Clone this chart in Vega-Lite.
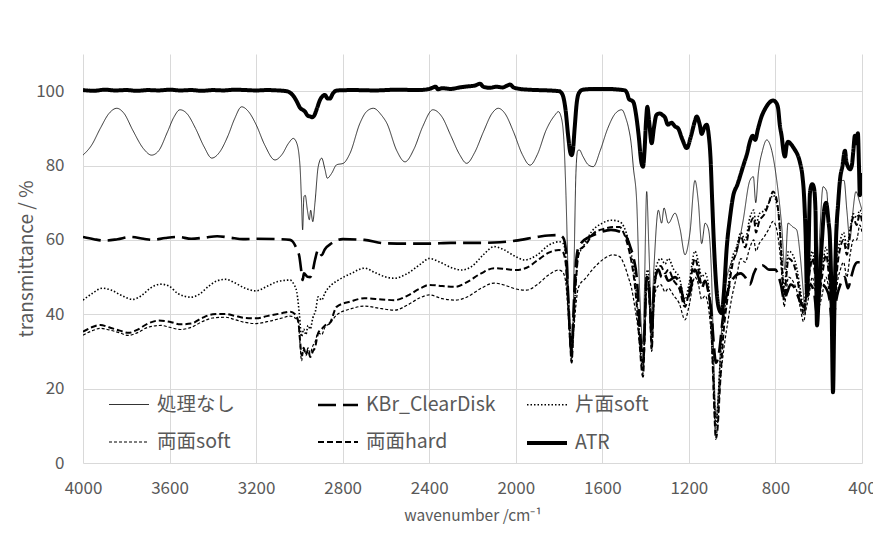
{
"$schema":"https://vega.github.io/schema/vega-lite/v6.json",
"width":779,"height":409,
"autosize":{"type":"none"},
"padding":{"left":83,"top":54,"right":11,"bottom":73},
"background":"white",
"config":{"view":{"stroke":null},"font":"Noto Sans CJK JP"},
"datasets":{
"spectra":[
{"series":"処理なし","wn":4000,"T":82.8},{"series":"処理なし","wn":3960,"T":85.5},{"series":"処理なし","wn":3920,"T":90},{"series":"処理なし","wn":3880,"T":94},{"series":"処理なし","wn":3844,"T":95.4},{"series":"処理なし","wn":3810,"T":94},{"series":"処理なし","wn":3770,"T":89.5},{"series":"処理なし","wn":3720,"T":84.5},{"series":"処理なし","wn":3683,"T":82.8},{"series":"処理なし","wn":3650,"T":84},{"series":"処理なし","wn":3610,"T":89},{"series":"処理なし","wn":3580,"T":93},{"series":"処理なし","wn":3552,"T":95},{"series":"処理なし","wn":3520,"T":94},{"series":"処理なし","wn":3480,"T":90},{"series":"処理なし","wn":3440,"T":85},{"series":"処理なし","wn":3405,"T":82},{"series":"処理なし","wn":3370,"T":83.5},{"series":"処理なし","wn":3330,"T":88},{"series":"処理なし","wn":3300,"T":92.5},{"series":"処理なし","wn":3267,"T":95.8},{"series":"処理なし","wn":3235,"T":94.5},{"series":"処理なし","wn":3200,"T":91},{"series":"処理なし","wn":3160,"T":85.5},{"series":"処理なし","wn":3113,"T":81.5},{"series":"処理なし","wn":3080,"T":83},{"series":"処理なし","wn":3050,"T":86},{"series":"処理なし","wn":3028,"T":87.3},{"series":"処理なし","wn":3012,"T":86},{"series":"処理なし","wn":2997,"T":79.7},{"series":"処理なし","wn":2990,"T":70},{"series":"処理なし","wn":2985,"T":62.7},{"series":"処理なし","wn":2979,"T":71.6},{"series":"処理なし","wn":2973,"T":72},{"series":"処理なし","wn":2963,"T":68},{"series":"処理なし","wn":2954,"T":65.4},{"series":"処理なし","wn":2948,"T":68},{"series":"処理なし","wn":2938,"T":64.9},{"series":"処理なし","wn":2928,"T":70},{"series":"処理なし","wn":2913,"T":79.7},{"series":"処理なし","wn":2897,"T":82},{"series":"処理なし","wn":2882,"T":79},{"series":"処理なし","wn":2871,"T":76.6},{"series":"処理なし","wn":2851,"T":77.9},{"series":"処理なし","wn":2828,"T":80.2},{"series":"処理なし","wn":2797,"T":80.6},{"series":"処理なし","wn":2766,"T":83.3},{"series":"処理なし","wn":2720,"T":91.4},{"series":"処理なし","wn":2690,"T":94.5},{"series":"処理なし","wn":2658,"T":95.4},{"series":"処理なし","wn":2620,"T":93.5},{"series":"処理なし","wn":2596,"T":91.4},{"series":"処理なし","wn":2550,"T":84},{"series":"処理なし","wn":2512,"T":81},{"series":"処理なし","wn":2470,"T":84.5},{"series":"処理なし","wn":2430,"T":90.5},{"series":"処理なし","wn":2383,"T":95},{"series":"処理なし","wn":2340,"T":93},{"series":"処理なし","wn":2300,"T":88},{"series":"処理なし","wn":2260,"T":83},{"series":"処理なし","wn":2227,"T":80.6},{"series":"処理なし","wn":2190,"T":83.5},{"series":"処理なし","wn":2150,"T":89},{"series":"処理なし","wn":2110,"T":94},{"series":"処理なし","wn":2081,"T":95.4},{"series":"処理なし","wn":2050,"T":94},{"series":"処理なし","wn":2010,"T":89},{"series":"処理なし","wn":1970,"T":83},{"series":"処理なし","wn":1934,"T":80.1},{"series":"処理なし","wn":1900,"T":83},{"series":"処理なし","wn":1860,"T":89.5},{"series":"処理なし","wn":1820,"T":93.5},{"series":"処理なし","wn":1803,"T":94.5},{"series":"処理なし","wn":1790,"T":93},{"series":"処理なし","wn":1778,"T":87},{"series":"処理なし","wn":1768,"T":72},{"series":"処理なし","wn":1758,"T":50},{"series":"処理なし","wn":1748,"T":32},{"series":"処理なし","wn":1742,"T":28},{"series":"処理なし","wn":1736,"T":36},{"series":"処理なし","wn":1730,"T":55},{"series":"処理なし","wn":1722,"T":78},{"series":"処理なし","wn":1714,"T":84},{"series":"処理なし","wn":1706,"T":84.2},{"series":"処理なし","wn":1690,"T":82.5},{"series":"処理なし","wn":1665,"T":80.2},{"series":"処理なし","wn":1642,"T":79.7},{"series":"処理なし","wn":1610,"T":84},{"series":"処理なし","wn":1575,"T":90},{"series":"処理なし","wn":1540,"T":94},{"series":"処理なし","wn":1510,"T":95},{"series":"処理なし","wn":1490,"T":92.5},{"series":"処理なし","wn":1480,"T":90.4},{"series":"処理なし","wn":1465,"T":85},{"series":"処理なし","wn":1457,"T":79.7},{"series":"処理なし","wn":1441,"T":70},{"series":"処理なし","wn":1430,"T":50},{"series":"処理なし","wn":1418,"T":35},{"series":"処理なし","wn":1412,"T":32},{"series":"処理なし","wn":1406,"T":45},{"series":"処理なし","wn":1395,"T":73},{"series":"処理なし","wn":1385,"T":58},{"series":"処理なし","wn":1372,"T":40},{"series":"処理なし","wn":1362,"T":52},{"series":"処理なし","wn":1341,"T":68},{"series":"処理なし","wn":1326,"T":64.5},{"series":"処理なし","wn":1315,"T":68.6},{"series":"処理なし","wn":1295,"T":64.5},{"series":"処理なし","wn":1264,"T":67.2},{"series":"処理なし","wn":1241,"T":63},{"series":"処理なし","wn":1218,"T":56},{"series":"処理なし","wn":1195,"T":62},{"series":"処理なし","wn":1172,"T":76},{"series":"処理なし","wn":1156,"T":70},{"series":"処理なし","wn":1141,"T":59},{"series":"処理なし","wn":1125,"T":64.5},{"series":"処理なし","wn":1110,"T":63},{"series":"処理なし","wn":1095,"T":50},{"series":"処理なし","wn":1085,"T":28},{"series":"処理なし","wn":1075,"T":12},{"series":"処理なし","wn":1065,"T":18},{"series":"処理なし","wn":1050,"T":35},{"series":"処理なし","wn":1030,"T":48},{"series":"処理なし","wn":1010,"T":53},{"series":"処理なし","wn":979,"T":56.5},{"series":"処理なし","wn":950,"T":65},{"series":"処理なし","wn":918,"T":76},{"series":"処理なし","wn":902,"T":77},{"series":"処理なし","wn":891,"T":70},{"series":"処理なし","wn":879,"T":78},{"series":"処理なし","wn":860,"T":84},{"series":"処理なし","wn":840,"T":86.9},{"series":"処理なし","wn":817,"T":84},{"series":"処理なし","wn":794,"T":76},{"series":"処理なし","wn":771,"T":63.6},{"series":"処理なし","wn":756,"T":52},{"series":"処理なし","wn":742,"T":64.5},{"series":"処理なし","wn":720,"T":63.5},{"series":"処理なし","wn":702,"T":62.7},{"series":"処理なし","wn":686,"T":56},{"series":"処理なし","wn":670,"T":45},{"series":"処理なし","wn":663,"T":40},{"series":"処理なし","wn":655,"T":47},{"series":"処理なし","wn":640,"T":52},{"series":"処理なし","wn":625,"T":55},{"series":"処理なし","wn":608,"T":48},{"series":"処理なし","wn":595,"T":62},{"series":"処理なし","wn":580,"T":74.3},{"series":"処理なし","wn":563,"T":73},{"series":"処理なし","wn":550,"T":55},{"series":"処理なし","wn":540,"T":38},{"series":"処理なし","wn":534,"T":30},{"series":"処理なし","wn":528,"T":40},{"series":"処理なし","wn":515,"T":60},{"series":"処理なし","wn":495,"T":76},{"series":"処理なし","wn":483,"T":76},{"series":"処理なし","wn":470,"T":68},{"series":"処理なし","wn":456,"T":60},{"series":"処理なし","wn":445,"T":66},{"series":"処理なし","wn":428,"T":73},{"series":"処理なし","wn":410,"T":70},{"series":"処理なし","wn":400,"T":68},

{"series":"KBr_ClearDisk","wn":4000,"T":60.8},{"series":"KBr_ClearDisk","wn":3950,"T":60.2},{"series":"KBr_ClearDisk","wn":3900,"T":59.8},{"series":"KBr_ClearDisk","wn":3840,"T":60.2},{"series":"KBr_ClearDisk","wn":3780,"T":60.8},{"series":"KBr_ClearDisk","wn":3720,"T":60.3},{"series":"KBr_ClearDisk","wn":3680,"T":60},{"series":"KBr_ClearDisk","wn":3620,"T":60.5},{"series":"KBr_ClearDisk","wn":3560,"T":60.8},{"series":"KBr_ClearDisk","wn":3500,"T":60.3},{"series":"KBr_ClearDisk","wn":3440,"T":60.6},{"series":"KBr_ClearDisk","wn":3380,"T":61},{"series":"KBr_ClearDisk","wn":3320,"T":60.6},{"series":"KBr_ClearDisk","wn":3260,"T":60.2},{"series":"KBr_ClearDisk","wn":3200,"T":60.3},{"series":"KBr_ClearDisk","wn":3100,"T":60.2},{"series":"KBr_ClearDisk","wn":3043,"T":60},{"series":"KBr_ClearDisk","wn":3030,"T":59.5},{"series":"KBr_ClearDisk","wn":3012,"T":57.5},{"series":"KBr_ClearDisk","wn":3000,"T":55.5},{"series":"KBr_ClearDisk","wn":2992,"T":52},{"series":"KBr_ClearDisk","wn":2985,"T":49.2},{"series":"KBr_ClearDisk","wn":2979,"T":51},{"series":"KBr_ClearDisk","wn":2963,"T":50.1},{"series":"KBr_ClearDisk","wn":2950,"T":50},{"series":"KBr_ClearDisk","wn":2940,"T":51.3},{"series":"KBr_ClearDisk","wn":2928,"T":54.6},{"series":"KBr_ClearDisk","wn":2913,"T":57.3},{"series":"KBr_ClearDisk","wn":2897,"T":55.9},{"series":"KBr_ClearDisk","wn":2882,"T":57.5},{"series":"KBr_ClearDisk","wn":2851,"T":59.1},{"series":"KBr_ClearDisk","wn":2800,"T":60.2},{"series":"KBr_ClearDisk","wn":2700,"T":60},{"series":"KBr_ClearDisk","wn":2610,"T":59.1},{"series":"KBr_ClearDisk","wn":2500,"T":59},{"series":"KBr_ClearDisk","wn":2400,"T":59},{"series":"KBr_ClearDisk","wn":2300,"T":59.2},{"series":"KBr_ClearDisk","wn":2200,"T":59.2},{"series":"KBr_ClearDisk","wn":2100,"T":59.3},{"series":"KBr_ClearDisk","wn":2000,"T":59.8},{"series":"KBr_ClearDisk","wn":1900,"T":60.8},{"series":"KBr_ClearDisk","wn":1850,"T":61.2},{"series":"KBr_ClearDisk","wn":1800,"T":61.3},{"series":"KBr_ClearDisk","wn":1780,"T":60.5},{"series":"KBr_ClearDisk","wn":1768,"T":57},{"series":"KBr_ClearDisk","wn":1758,"T":45},{"series":"KBr_ClearDisk","wn":1750,"T":35},{"series":"KBr_ClearDisk","wn":1742,"T":30},{"series":"KBr_ClearDisk","wn":1735,"T":38},{"series":"KBr_ClearDisk","wn":1726,"T":50},{"series":"KBr_ClearDisk","wn":1715,"T":57},{"series":"KBr_ClearDisk","wn":1700,"T":59},{"series":"KBr_ClearDisk","wn":1660,"T":60.8},{"series":"KBr_ClearDisk","wn":1620,"T":61.8},{"series":"KBr_ClearDisk","wn":1560,"T":62.7},{"series":"KBr_ClearDisk","wn":1510,"T":62},{"series":"KBr_ClearDisk","wn":1490,"T":61},{"series":"KBr_ClearDisk","wn":1470,"T":58},{"series":"KBr_ClearDisk","wn":1455,"T":55},{"series":"KBr_ClearDisk","wn":1441,"T":50},{"series":"KBr_ClearDisk","wn":1425,"T":35},{"series":"KBr_ClearDisk","wn":1412,"T":27},{"series":"KBr_ClearDisk","wn":1402,"T":40},{"series":"KBr_ClearDisk","wn":1395,"T":50},{"series":"KBr_ClearDisk","wn":1385,"T":48},{"series":"KBr_ClearDisk","wn":1372,"T":35},{"series":"KBr_ClearDisk","wn":1360,"T":48},{"series":"KBr_ClearDisk","wn":1341,"T":52},{"series":"KBr_ClearDisk","wn":1326,"T":50},{"series":"KBr_ClearDisk","wn":1315,"T":51},{"series":"KBr_ClearDisk","wn":1295,"T":49},{"series":"KBr_ClearDisk","wn":1264,"T":50},{"series":"KBr_ClearDisk","wn":1241,"T":48},{"series":"KBr_ClearDisk","wn":1218,"T":43},{"series":"KBr_ClearDisk","wn":1195,"T":46},{"series":"KBr_ClearDisk","wn":1172,"T":52},{"series":"KBr_ClearDisk","wn":1156,"T":50},{"series":"KBr_ClearDisk","wn":1141,"T":47},{"series":"KBr_ClearDisk","wn":1125,"T":49},{"series":"KBr_ClearDisk","wn":1110,"T":46},{"series":"KBr_ClearDisk","wn":1095,"T":40},{"series":"KBr_ClearDisk","wn":1085,"T":32},{"series":"KBr_ClearDisk","wn":1075,"T":27},{"series":"KBr_ClearDisk","wn":1060,"T":30},{"series":"KBr_ClearDisk","wn":1045,"T":38},{"series":"KBr_ClearDisk","wn":1030,"T":44},{"series":"KBr_ClearDisk","wn":1010,"T":48},{"series":"KBr_ClearDisk","wn":990,"T":50},{"series":"KBr_ClearDisk","wn":960,"T":51},{"series":"KBr_ClearDisk","wn":940,"T":50},{"series":"KBr_ClearDisk","wn":918,"T":48},{"series":"KBr_ClearDisk","wn":900,"T":51},{"series":"KBr_ClearDisk","wn":880,"T":53},{"series":"KBr_ClearDisk","wn":860,"T":53.2},{"series":"KBr_ClearDisk","wn":830,"T":52},{"series":"KBr_ClearDisk","wn":800,"T":52},{"series":"KBr_ClearDisk","wn":790,"T":51},{"series":"KBr_ClearDisk","wn":775,"T":48},{"series":"KBr_ClearDisk","wn":760,"T":44},{"series":"KBr_ClearDisk","wn":745,"T":46},{"series":"KBr_ClearDisk","wn":730,"T":48},{"series":"KBr_ClearDisk","wn":710,"T":47},{"series":"KBr_ClearDisk","wn":690,"T":44},{"series":"KBr_ClearDisk","wn":670,"T":42},{"series":"KBr_ClearDisk","wn":654,"T":45},{"series":"KBr_ClearDisk","wn":640,"T":48},{"series":"KBr_ClearDisk","wn":622,"T":46},{"series":"KBr_ClearDisk","wn":608,"T":40},{"series":"KBr_ClearDisk","wn":595,"T":46},{"series":"KBr_ClearDisk","wn":585,"T":48},{"series":"KBr_ClearDisk","wn":566,"T":47},{"series":"KBr_ClearDisk","wn":550,"T":44},{"series":"KBr_ClearDisk","wn":540,"T":38},{"series":"KBr_ClearDisk","wn":534,"T":36},{"series":"KBr_ClearDisk","wn":528,"T":40},{"series":"KBr_ClearDisk","wn":515,"T":45},{"series":"KBr_ClearDisk","wn":500,"T":48},{"series":"KBr_ClearDisk","wn":480,"T":50},{"series":"KBr_ClearDisk","wn":465,"T":47},{"series":"KBr_ClearDisk","wn":450,"T":50},{"series":"KBr_ClearDisk","wn":435,"T":53},{"series":"KBr_ClearDisk","wn":420,"T":54},{"series":"KBr_ClearDisk","wn":400,"T":54},

{"series":"片面soft","wn":4000,"T":43.8},{"series":"片面soft","wn":3960,"T":45.5},{"series":"片面soft","wn":3910,"T":47},{"series":"片面soft","wn":3870,"T":46.5},{"series":"片面soft","wn":3820,"T":45},{"series":"片面soft","wn":3770,"T":44},{"series":"片面soft","wn":3730,"T":45},{"series":"片面soft","wn":3690,"T":47},{"series":"片面soft","wn":3640,"T":48.1},{"series":"片面soft","wn":3600,"T":47.5},{"series":"片面soft","wn":3560,"T":45.5},{"series":"片面soft","wn":3500,"T":44.6},{"series":"片面soft","wn":3460,"T":45.5},{"series":"片面soft","wn":3420,"T":47.5},{"series":"片面soft","wn":3380,"T":49},{"series":"片面soft","wn":3340,"T":49.4},{"series":"片面soft","wn":3300,"T":48.5},{"series":"片面soft","wn":3250,"T":47},{"series":"片面soft","wn":3200,"T":46.3},{"series":"片面soft","wn":3150,"T":47.5},{"series":"片面soft","wn":3100,"T":48.8},{"series":"片面soft","wn":3043,"T":49.2},{"series":"片面soft","wn":3025,"T":48},{"series":"片面soft","wn":3012,"T":46},{"series":"片面soft","wn":3000,"T":40},{"series":"片面soft","wn":2990,"T":34},{"series":"片面soft","wn":2980,"T":36},{"series":"片面soft","wn":2970,"T":34.5},{"series":"片面soft","wn":2960,"T":37},{"series":"片面soft","wn":2950,"T":36},{"series":"片面soft","wn":2938,"T":39},{"series":"片面soft","wn":2925,"T":41},{"series":"片面soft","wn":2913,"T":44.7},{"series":"片面soft","wn":2897,"T":43.8},{"series":"片面soft","wn":2882,"T":45.7},{"series":"片面soft","wn":2850,"T":48},{"series":"片面soft","wn":2820,"T":49.2},{"series":"片面soft","wn":2760,"T":51},{"series":"片面soft","wn":2700,"T":52.4},{"series":"片面soft","wn":2650,"T":51.2},{"series":"片面soft","wn":2600,"T":50},{"series":"片面soft","wn":2560,"T":49.7},{"series":"片面soft","wn":2500,"T":51},{"series":"片面soft","wn":2440,"T":53.5},{"series":"片面soft","wn":2400,"T":55},{"series":"片面soft","wn":2350,"T":54},{"series":"片面soft","wn":2300,"T":52.6},{"series":"片面soft","wn":2250,"T":51.9},{"series":"片面soft","wn":2200,"T":53},{"series":"片面soft","wn":2150,"T":56},{"series":"片面soft","wn":2100,"T":58.2},{"series":"片面soft","wn":2060,"T":57.5},{"series":"片面soft","wn":2000,"T":55.5},{"series":"片面soft","wn":1960,"T":54.6},{"series":"片面soft","wn":1900,"T":56},{"series":"片面soft","wn":1850,"T":58.5},{"series":"片面soft","wn":1800,"T":59.5},{"series":"片面soft","wn":1780,"T":59},{"series":"片面soft","wn":1768,"T":55},{"series":"片面soft","wn":1758,"T":45},{"series":"片面soft","wn":1750,"T":36},{"series":"片面soft","wn":1742,"T":30},{"series":"片面soft","wn":1735,"T":37},{"series":"片面soft","wn":1726,"T":45},{"series":"片面soft","wn":1712,"T":55.5},{"series":"片面soft","wn":1690,"T":58},{"series":"片面soft","wn":1650,"T":62.2},{"series":"片面soft","wn":1600,"T":64.5},{"series":"片面soft","wn":1560,"T":65.3},{"series":"片面soft","wn":1520,"T":64.9},{"series":"片面soft","wn":1500,"T":63.5},{"series":"片面soft","wn":1480,"T":60},{"series":"片面soft","wn":1465,"T":56},{"series":"片面soft","wn":1450,"T":50},{"series":"片面soft","wn":1435,"T":40},{"series":"片面soft","wn":1425,"T":32},{"series":"片面soft","wn":1418,"T":27},{"series":"片面soft","wn":1412,"T":25},{"series":"片面soft","wn":1405,"T":35},{"series":"片面soft","wn":1398,"T":50},{"series":"片面soft","wn":1390,"T":52},{"series":"片面soft","wn":1380,"T":44},{"series":"片面soft","wn":1372,"T":33},{"series":"片面soft","wn":1362,"T":46},{"series":"片面soft","wn":1350,"T":53},{"series":"片面soft","wn":1330,"T":55},{"series":"片面soft","wn":1310,"T":53.5},{"series":"片面soft","wn":1295,"T":55},{"series":"片面soft","wn":1270,"T":52},{"series":"片面soft","wn":1245,"T":50},{"series":"片面soft","wn":1218,"T":44},{"series":"片面soft","wn":1200,"T":48},{"series":"片面soft","wn":1172,"T":57},{"series":"片面soft","wn":1156,"T":54},{"series":"片面soft","wn":1141,"T":50},{"series":"片面soft","wn":1125,"T":51},{"series":"片面soft","wn":1110,"T":48},{"series":"片面soft","wn":1095,"T":38},{"series":"片面soft","wn":1085,"T":22},{"series":"片面soft","wn":1075,"T":10},{"series":"片面soft","wn":1068,"T":14},{"series":"片面soft","wn":1055,"T":28},{"series":"片面soft","wn":1040,"T":38},{"series":"片面soft","wn":1020,"T":47},{"series":"片面soft","wn":1000,"T":55},{"series":"片面soft","wn":980,"T":58},{"series":"片面soft","wn":960,"T":62},{"series":"片面soft","wn":940,"T":60},{"series":"片面soft","wn":918,"T":66},{"series":"片面soft","wn":900,"T":68},{"series":"片面soft","wn":890,"T":64},{"series":"片面soft","wn":875,"T":67},{"series":"片面soft","wn":850,"T":68},{"series":"片面soft","wn":830,"T":70},{"series":"片面soft","wn":811,"T":72},{"series":"片面soft","wn":795,"T":70},{"series":"片面soft","wn":780,"T":64},{"series":"片面soft","wn":770,"T":55},{"series":"片面soft","wn":760,"T":47},{"series":"片面soft","wn":750,"T":52},{"series":"片面soft","wn":740,"T":57},{"series":"片面soft","wn":720,"T":56},{"series":"片面soft","wn":700,"T":52},{"series":"片面soft","wn":686,"T":47},{"series":"片面soft","wn":670,"T":42},{"series":"片面soft","wn":660,"T":46},{"series":"片面soft","wn":645,"T":52},{"series":"片面soft","wn":630,"T":57},{"series":"片面soft","wn":615,"T":52},{"series":"片面soft","wn":600,"T":47},{"series":"片面soft","wn":585,"T":52},{"series":"片面soft","wn":566,"T":58},{"series":"片面soft","wn":550,"T":50},{"series":"片面soft","wn":540,"T":42},{"series":"片面soft","wn":534,"T":35},{"series":"片面soft","wn":528,"T":42},{"series":"片面soft","wn":515,"T":55},{"series":"片面soft","wn":500,"T":60},{"series":"片面soft","wn":485,"T":62},{"series":"片面soft","wn":470,"T":58},{"series":"片面soft","wn":455,"T":63},{"series":"片面soft","wn":440,"T":67},{"series":"片面soft","wn":425,"T":66},{"series":"片面soft","wn":410,"T":68},{"series":"片面soft","wn":400,"T":67},

{"series":"両面soft","wn":4000,"T":34.4},{"series":"両面soft","wn":3960,"T":35.5},{"series":"両面soft","wn":3920,"T":36.2},{"series":"両面soft","wn":3880,"T":35.8},{"series":"両面soft","wn":3830,"T":35},{"series":"両面soft","wn":3790,"T":34.3},{"series":"両面soft","wn":3750,"T":35},{"series":"両面soft","wn":3700,"T":36.5},{"series":"両面soft","wn":3640,"T":37},{"series":"両面soft","wn":3600,"T":36.5},{"series":"両面soft","wn":3550,"T":35.9},{"series":"両面soft","wn":3500,"T":36.5},{"series":"両面soft","wn":3450,"T":38},{"series":"両面soft","wn":3400,"T":39},{"series":"両面soft","wn":3340,"T":39.2},{"series":"両面soft","wn":3300,"T":38.6},{"series":"両面soft","wn":3250,"T":37.8},{"series":"両面soft","wn":3200,"T":37.5},{"series":"両面soft","wn":3150,"T":38},{"series":"両面soft","wn":3080,"T":39},{"series":"両面soft","wn":3043,"T":39.5},{"series":"両面soft","wn":3020,"T":39},{"series":"両面soft","wn":3005,"T":38},{"series":"両面soft","wn":2997,"T":32},{"series":"両面soft","wn":2990,"T":27.5},{"series":"両面soft","wn":2980,"T":30.5},{"series":"両面soft","wn":2970,"T":29.5},{"series":"両面soft","wn":2960,"T":31},{"series":"両面soft","wn":2950,"T":29.5},{"series":"両面soft","wn":2938,"T":31.5},{"series":"両面soft","wn":2928,"T":32.5},{"series":"両面soft","wn":2913,"T":35},{"series":"両面soft","wn":2897,"T":34.5},{"series":"両面soft","wn":2882,"T":36.5},{"series":"両面soft","wn":2860,"T":37.5},{"series":"両面soft","wn":2828,"T":39.8},{"series":"両面soft","wn":2760,"T":41.5},{"series":"両面soft","wn":2700,"T":42.2},{"series":"両面soft","wn":2620,"T":41.5},{"series":"両面soft","wn":2560,"T":41.1},{"series":"両面soft","wn":2500,"T":42.5},{"series":"両面soft","wn":2440,"T":44.5},{"series":"両面soft","wn":2400,"T":45.2},{"series":"両面soft","wn":2340,"T":44.2},{"series":"両面soft","wn":2280,"T":43.8},{"series":"両面soft","wn":2230,"T":44.5},{"series":"両面soft","wn":2160,"T":47},{"series":"両面soft","wn":2100,"T":48.4},{"series":"両面soft","wn":2050,"T":47.8},{"series":"両面soft","wn":2000,"T":46.8},{"series":"両面soft","wn":1950,"T":46.5},{"series":"両面soft","wn":1900,"T":48},{"series":"両面soft","wn":1850,"T":50.5},{"series":"両面soft","wn":1800,"T":51.9},{"series":"両面soft","wn":1785,"T":51.5},{"series":"両面soft","wn":1770,"T":49},{"series":"両面soft","wn":1760,"T":42},{"series":"両面soft","wn":1750,"T":33},{"series":"両面soft","wn":1742,"T":27},{"series":"両面soft","wn":1735,"T":33},{"series":"両面soft","wn":1726,"T":40},{"series":"両面soft","wn":1715,"T":46},{"series":"両面soft","wn":1705,"T":47.9},{"series":"両面soft","wn":1680,"T":49.5},{"series":"両面soft","wn":1640,"T":52.4},{"series":"両面soft","wn":1590,"T":55},{"series":"両面soft","wn":1550,"T":56},{"series":"両面soft","wn":1520,"T":55.5},{"series":"両面soft","wn":1500,"T":53.5},{"series":"両面soft","wn":1480,"T":50},{"series":"両面soft","wn":1465,"T":47},{"series":"両面soft","wn":1450,"T":42},{"series":"両面soft","wn":1435,"T":36},{"series":"両面soft","wn":1425,"T":30},{"series":"両面soft","wn":1418,"T":26},{"series":"両面soft","wn":1412,"T":24},{"series":"両面soft","wn":1405,"T":33},{"series":"両面soft","wn":1398,"T":45},{"series":"両面soft","wn":1390,"T":47},{"series":"両面soft","wn":1380,"T":40},{"series":"両面soft","wn":1372,"T":30},{"series":"両面soft","wn":1362,"T":42},{"series":"両面soft","wn":1350,"T":47},{"series":"両面soft","wn":1330,"T":48},{"series":"両面soft","wn":1310,"T":46},{"series":"両面soft","wn":1295,"T":47},{"series":"両面soft","wn":1270,"T":45},{"series":"両面soft","wn":1245,"T":43},{"series":"両面soft","wn":1218,"T":38.5},{"series":"両面soft","wn":1200,"T":42},{"series":"両面soft","wn":1172,"T":50},{"series":"両面soft","wn":1156,"T":48},{"series":"両面soft","wn":1141,"T":44},{"series":"両面soft","wn":1125,"T":45},{"series":"両面soft","wn":1110,"T":42},{"series":"両面soft","wn":1095,"T":32},{"series":"両面soft","wn":1085,"T":18},{"series":"両面soft","wn":1075,"T":7},{"series":"両面soft","wn":1068,"T":10},{"series":"両面soft","wn":1055,"T":22},{"series":"両面soft","wn":1040,"T":30},{"series":"両面soft","wn":1020,"T":38},{"series":"両面soft","wn":1000,"T":45},{"series":"両面soft","wn":980,"T":50},{"series":"両面soft","wn":960,"T":55},{"series":"両面soft","wn":940,"T":54},{"series":"両面soft","wn":918,"T":58},{"series":"両面soft","wn":900,"T":60},{"series":"両面soft","wn":890,"T":57},{"series":"両面soft","wn":875,"T":59},{"series":"両面soft","wn":850,"T":61},{"series":"両面soft","wn":830,"T":63},{"series":"両面soft","wn":811,"T":65},{"series":"両面soft","wn":795,"T":63},{"series":"両面soft","wn":780,"T":57},{"series":"両面soft","wn":770,"T":50},{"series":"両面soft","wn":760,"T":42},{"series":"両面soft","wn":750,"T":46},{"series":"両面soft","wn":740,"T":50},{"series":"両面soft","wn":720,"T":49},{"series":"両面soft","wn":700,"T":46},{"series":"両面soft","wn":686,"T":42},{"series":"両面soft","wn":670,"T":38},{"series":"両面soft","wn":660,"T":41},{"series":"両面soft","wn":645,"T":45},{"series":"両面soft","wn":630,"T":50},{"series":"両面soft","wn":615,"T":46},{"series":"両面soft","wn":600,"T":42},{"series":"両面soft","wn":585,"T":45},{"series":"両面soft","wn":566,"T":50},{"series":"両面soft","wn":550,"T":45},{"series":"両面soft","wn":540,"T":40},{"series":"両面soft","wn":534,"T":37},{"series":"両面soft","wn":528,"T":40},{"series":"両面soft","wn":515,"T":48},{"series":"両面soft","wn":500,"T":52},{"series":"両面soft","wn":485,"T":54},{"series":"両面soft","wn":470,"T":50},{"series":"両面soft","wn":455,"T":56},{"series":"両面soft","wn":440,"T":60},{"series":"両面soft","wn":425,"T":60},{"series":"両面soft","wn":410,"T":64},{"series":"両面soft","wn":400,"T":62},

{"series":"両面hard","wn":4000,"T":35.3},{"series":"両面hard","wn":3960,"T":36.5},{"series":"両面hard","wn":3920,"T":37.1},{"series":"両面hard","wn":3880,"T":36.5},{"series":"両面hard","wn":3830,"T":35.6},{"series":"両面hard","wn":3790,"T":35},{"series":"両面hard","wn":3750,"T":35.8},{"series":"両面hard","wn":3700,"T":37.5},{"series":"両面hard","wn":3650,"T":38.3},{"series":"両面hard","wn":3600,"T":38},{"series":"両面hard","wn":3550,"T":37.3},{"series":"両面hard","wn":3500,"T":37.5},{"series":"両面hard","wn":3450,"T":39},{"series":"両面hard","wn":3400,"T":40},{"series":"両面hard","wn":3340,"T":40.1},{"series":"両面hard","wn":3300,"T":39.6},{"series":"両面hard","wn":3250,"T":39},{"series":"両面hard","wn":3200,"T":38.9},{"series":"両面hard","wn":3150,"T":39.5},{"series":"両面hard","wn":3080,"T":40.3},{"series":"両面hard","wn":3043,"T":40.7},{"series":"両面hard","wn":3020,"T":40},{"series":"両面hard","wn":3005,"T":38},{"series":"両面hard","wn":2997,"T":33},{"series":"両面hard","wn":2990,"T":29},{"series":"両面hard","wn":2980,"T":31},{"series":"両面hard","wn":2970,"T":29},{"series":"両面hard","wn":2960,"T":30.5},{"series":"両面hard","wn":2950,"T":28.5},{"series":"両面hard","wn":2938,"T":30},{"series":"両面hard","wn":2928,"T":31},{"series":"両面hard","wn":2913,"T":35},{"series":"両面hard","wn":2897,"T":36},{"series":"両面hard","wn":2882,"T":37},{"series":"両面hard","wn":2860,"T":37.6},{"series":"両面hard","wn":2828,"T":42},{"series":"両面hard","wn":2760,"T":43.5},{"series":"両面hard","wn":2700,"T":44.3},{"series":"両面hard","wn":2620,"T":44},{"series":"両面hard","wn":2560,"T":43.8},{"series":"両面hard","wn":2500,"T":45},{"series":"両面hard","wn":2440,"T":47},{"series":"両面hard","wn":2400,"T":47.9},{"series":"両面hard","wn":2340,"T":47.6},{"series":"両面hard","wn":2280,"T":47.4},{"series":"両面hard","wn":2230,"T":48.5},{"series":"両面hard","wn":2160,"T":51},{"series":"両面hard","wn":2100,"T":52.4},{"series":"両面hard","wn":2050,"T":52.2},{"series":"両面hard","wn":2000,"T":51.9},{"series":"両面hard","wn":1950,"T":52.5},{"series":"両面hard","wn":1900,"T":54.5},{"series":"両面hard","wn":1850,"T":56.5},{"series":"両面hard","wn":1800,"T":57.3},{"series":"両面hard","wn":1785,"T":57},{"series":"両面hard","wn":1770,"T":54},{"series":"両面hard","wn":1760,"T":45},{"series":"両面hard","wn":1750,"T":34},{"series":"両面hard","wn":1742,"T":27},{"series":"両面hard","wn":1735,"T":34},{"series":"両面hard","wn":1726,"T":45},{"series":"両面hard","wn":1715,"T":54},{"series":"両面hard","wn":1705,"T":57.3},{"series":"両面hard","wn":1680,"T":58.5},{"series":"両面hard","wn":1640,"T":61.8},{"series":"両面hard","wn":1590,"T":63},{"series":"両面hard","wn":1550,"T":63.5},{"series":"両面hard","wn":1520,"T":63.5},{"series":"両面hard","wn":1500,"T":61.7},{"series":"両面hard","wn":1480,"T":58},{"series":"両面hard","wn":1465,"T":54},{"series":"両面hard","wn":1450,"T":48},{"series":"両面hard","wn":1435,"T":38},{"series":"両面hard","wn":1425,"T":30},{"series":"両面hard","wn":1418,"T":25},{"series":"両面hard","wn":1412,"T":23.2},{"series":"両面hard","wn":1405,"T":33},{"series":"両面hard","wn":1398,"T":47},{"series":"両面hard","wn":1390,"T":50},{"series":"両面hard","wn":1380,"T":42},{"series":"両面hard","wn":1372,"T":30.4},{"series":"両面hard","wn":1362,"T":44},{"series":"両面hard","wn":1350,"T":51},{"series":"両面hard","wn":1330,"T":53},{"series":"両面hard","wn":1310,"T":51},{"series":"両面hard","wn":1295,"T":52},{"series":"両面hard","wn":1270,"T":49},{"series":"両面hard","wn":1245,"T":47},{"series":"両面hard","wn":1218,"T":42},{"series":"両面hard","wn":1200,"T":46},{"series":"両面hard","wn":1172,"T":55},{"series":"両面hard","wn":1156,"T":52},{"series":"両面hard","wn":1141,"T":48},{"series":"両面hard","wn":1125,"T":49},{"series":"両面hard","wn":1110,"T":46},{"series":"両面hard","wn":1095,"T":35},{"series":"両面hard","wn":1085,"T":18},{"series":"両面hard","wn":1075,"T":6.5},{"series":"両面hard","wn":1068,"T":9},{"series":"両面hard","wn":1055,"T":22},{"series":"両面hard","wn":1040,"T":35},{"series":"両面hard","wn":1020,"T":45},{"series":"両面hard","wn":1000,"T":53},{"series":"両面hard","wn":980,"T":57},{"series":"両面hard","wn":960,"T":61},{"series":"両面hard","wn":940,"T":58},{"series":"両面hard","wn":918,"T":64},{"series":"両面hard","wn":900,"T":66},{"series":"両面hard","wn":890,"T":62},{"series":"両面hard","wn":875,"T":65},{"series":"両面hard","wn":850,"T":67},{"series":"両面hard","wn":830,"T":70},{"series":"両面hard","wn":811,"T":73},{"series":"両面hard","wn":795,"T":71},{"series":"両面hard","wn":780,"T":63},{"series":"両面hard","wn":770,"T":53},{"series":"両面hard","wn":760,"T":44},{"series":"両面hard","wn":750,"T":50},{"series":"両面hard","wn":740,"T":55},{"series":"両面hard","wn":720,"T":54},{"series":"両面hard","wn":700,"T":50},{"series":"両面hard","wn":686,"T":45},{"series":"両面hard","wn":670,"T":40},{"series":"両面hard","wn":660,"T":44},{"series":"両面hard","wn":645,"T":50},{"series":"両面hard","wn":630,"T":55},{"series":"両面hard","wn":615,"T":50},{"series":"両面hard","wn":600,"T":45},{"series":"両面hard","wn":585,"T":50},{"series":"両面hard","wn":566,"T":56},{"series":"両面hard","wn":550,"T":48},{"series":"両面hard","wn":540,"T":40},{"series":"両面hard","wn":534,"T":33},{"series":"両面hard","wn":528,"T":40},{"series":"両面hard","wn":515,"T":52},{"series":"両面hard","wn":500,"T":58},{"series":"両面hard","wn":485,"T":60},{"series":"両面hard","wn":470,"T":56},{"series":"両面hard","wn":455,"T":62},{"series":"両面hard","wn":440,"T":66},{"series":"両面hard","wn":425,"T":64},{"series":"両面hard","wn":410,"T":67},{"series":"両面hard","wn":400,"T":65},

{"series":"ATR","wn":4000,"T":100.3},{"series":"ATR","wn":3950,"T":100.1},{"series":"ATR","wn":3900,"T":100.4},{"series":"ATR","wn":3850,"T":100.2},{"series":"ATR","wn":3800,"T":100.3},{"series":"ATR","wn":3750,"T":100.1},{"series":"ATR","wn":3700,"T":100.3},{"series":"ATR","wn":3650,"T":100.2},{"series":"ATR","wn":3600,"T":100.4},{"series":"ATR","wn":3550,"T":100.2},{"series":"ATR","wn":3500,"T":100.3},{"series":"ATR","wn":3450,"T":100.1},{"series":"ATR","wn":3400,"T":100.3},{"series":"ATR","wn":3350,"T":100.2},{"series":"ATR","wn":3300,"T":100.4},{"series":"ATR","wn":3250,"T":100.3},{"series":"ATR","wn":3200,"T":100.2},{"series":"ATR","wn":3150,"T":100.3},{"series":"ATR","wn":3100,"T":100.2},{"series":"ATR","wn":3060,"T":100},{"series":"ATR","wn":3043,"T":99.6},{"series":"ATR","wn":3025,"T":98.5},{"series":"ATR","wn":3010,"T":97},{"series":"ATR","wn":2997,"T":95.5},{"series":"ATR","wn":2985,"T":95},{"series":"ATR","wn":2974,"T":94.5},{"series":"ATR","wn":2963,"T":93.5},{"series":"ATR","wn":2951,"T":93.2},{"series":"ATR","wn":2940,"T":93},{"series":"ATR","wn":2930,"T":93.6},{"series":"ATR","wn":2918,"T":95.5},{"series":"ATR","wn":2905,"T":97.6},{"series":"ATR","wn":2890,"T":98.8},{"series":"ATR","wn":2882,"T":99},{"series":"ATR","wn":2870,"T":98},{"series":"ATR","wn":2859,"T":98},{"series":"ATR","wn":2845,"T":99.4},{"series":"ATR","wn":2826,"T":100.2},{"series":"ATR","wn":2750,"T":100.3},{"series":"ATR","wn":2650,"T":100.2},{"series":"ATR","wn":2550,"T":100.4},{"series":"ATR","wn":2450,"T":100.3},{"series":"ATR","wn":2400,"T":100.6},{"series":"ATR","wn":2370,"T":101.2},{"series":"ATR","wn":2360,"T":100.5},{"series":"ATR","wn":2340,"T":100.8},{"series":"ATR","wn":2300,"T":100.6},{"series":"ATR","wn":2260,"T":101},{"series":"ATR","wn":2220,"T":101.3},{"series":"ATR","wn":2190,"T":101.5},{"series":"ATR","wn":2165,"T":102},{"series":"ATR","wn":2150,"T":101.2},{"series":"ATR","wn":2120,"T":100.9},{"series":"ATR","wn":2090,"T":101.2},{"series":"ATR","wn":2060,"T":101},{"series":"ATR","wn":2040,"T":101.5},{"series":"ATR","wn":2027,"T":101.8},{"series":"ATR","wn":2010,"T":101},{"series":"ATR","wn":1980,"T":100.6},{"series":"ATR","wn":1940,"T":100.4},{"series":"ATR","wn":1900,"T":100.3},{"series":"ATR","wn":1850,"T":100.2},{"series":"ATR","wn":1800,"T":100},{"series":"ATR","wn":1785,"T":99.2},{"series":"ATR","wn":1770,"T":95},{"series":"ATR","wn":1758,"T":88},{"series":"ATR","wn":1748,"T":83.5},{"series":"ATR","wn":1742,"T":82.8},{"series":"ATR","wn":1736,"T":84},{"series":"ATR","wn":1728,"T":90},{"series":"ATR","wn":1718,"T":97},{"series":"ATR","wn":1708,"T":99.5},{"series":"ATR","wn":1690,"T":100.4},{"series":"ATR","wn":1640,"T":100.6},{"series":"ATR","wn":1580,"T":100.6},{"series":"ATR","wn":1520,"T":100.4},{"series":"ATR","wn":1495,"T":100.2},{"series":"ATR","wn":1486,"T":99.5},{"series":"ATR","wn":1476,"T":97.8},{"series":"ATR","wn":1465,"T":97.5},{"series":"ATR","wn":1456,"T":97},{"series":"ATR","wn":1445,"T":94},{"series":"ATR","wn":1432,"T":88},{"series":"ATR","wn":1420,"T":81},{"series":"ATR","wn":1412,"T":79.7},{"series":"ATR","wn":1405,"T":84},{"series":"ATR","wn":1398,"T":92},{"series":"ATR","wn":1392,"T":95.8},{"series":"ATR","wn":1384,"T":92},{"series":"ATR","wn":1372,"T":86},{"series":"ATR","wn":1362,"T":90},{"series":"ATR","wn":1350,"T":93.6},{"series":"ATR","wn":1334,"T":94},{"series":"ATR","wn":1320,"T":93.5},{"series":"ATR","wn":1311,"T":93},{"series":"ATR","wn":1297,"T":91},{"series":"ATR","wn":1280,"T":91.5},{"series":"ATR","wn":1264,"T":90.5},{"series":"ATR","wn":1250,"T":90},{"series":"ATR","wn":1230,"T":87},{"series":"ATR","wn":1210,"T":84.7},{"series":"ATR","wn":1190,"T":88},{"series":"ATR","wn":1172,"T":92},{"series":"ATR","wn":1164,"T":93.2},{"series":"ATR","wn":1150,"T":91},{"series":"ATR","wn":1141,"T":88.5},{"series":"ATR","wn":1130,"T":90},{"series":"ATR","wn":1118,"T":91},{"series":"ATR","wn":1108,"T":88},{"series":"ATR","wn":1100,"T":82},{"series":"ATR","wn":1092,"T":70},{"series":"ATR","wn":1082,"T":56},{"series":"ATR","wn":1070,"T":45},{"series":"ATR","wn":1058,"T":41},{"series":"ATR","wn":1048,"T":40.3},{"series":"ATR","wn":1038,"T":46},{"series":"ATR","wn":1025,"T":58},{"series":"ATR","wn":1010,"T":66},{"series":"ATR","wn":996,"T":71.6},{"series":"ATR","wn":975,"T":75},{"series":"ATR","wn":950,"T":79.7},{"series":"ATR","wn":930,"T":83.5},{"series":"ATR","wn":918,"T":86.4},{"series":"ATR","wn":905,"T":88},{"series":"ATR","wn":894,"T":86.9},{"series":"ATR","wn":880,"T":90},{"series":"ATR","wn":864,"T":93.2},{"series":"ATR","wn":850,"T":95},{"series":"ATR","wn":830,"T":96.8},{"series":"ATR","wn":811,"T":97.5},{"series":"ATR","wn":798,"T":97},{"series":"ATR","wn":788,"T":95.5},{"series":"ATR","wn":780,"T":91},{"series":"ATR","wn":771,"T":87.8},{"series":"ATR","wn":762,"T":83.5},{"series":"ATR","wn":756,"T":82.4},{"series":"ATR","wn":748,"T":85.5},{"series":"ATR","wn":742,"T":86.4},{"series":"ATR","wn":725,"T":85.5},{"series":"ATR","wn":710,"T":84.2},{"series":"ATR","wn":695,"T":82.5},{"series":"ATR","wn":686,"T":80.7},{"series":"ATR","wn":675,"T":77},{"series":"ATR","wn":668,"T":72},{"series":"ATR","wn":660,"T":60},{"series":"ATR","wn":654,"T":45},{"series":"ATR","wn":648,"T":55},{"series":"ATR","wn":640,"T":73},{"series":"ATR","wn":630,"T":75},{"series":"ATR","wn":622,"T":74},{"series":"ATR","wn":615,"T":68},{"series":"ATR","wn":608,"T":37},{"series":"ATR","wn":600,"T":45},{"series":"ATR","wn":585,"T":60},{"series":"ATR","wn":575,"T":68},{"series":"ATR","wn":566,"T":70},{"series":"ATR","wn":555,"T":65},{"series":"ATR","wn":548,"T":60},{"series":"ATR","wn":541,"T":45},{"series":"ATR","wn":534,"T":19},{"series":"ATR","wn":528,"T":40},{"series":"ATR","wn":520,"T":60},{"series":"ATR","wn":510,"T":70},{"series":"ATR","wn":502,"T":76},{"series":"ATR","wn":490,"T":80},{"series":"ATR","wn":479,"T":84},{"series":"ATR","wn":472,"T":81},{"series":"ATR","wn":465,"T":79.7},{"series":"ATR","wn":455,"T":79},{"series":"ATR","wn":447,"T":80},{"series":"ATR","wn":440,"T":84},{"series":"ATR","wn":433,"T":88},{"series":"ATR","wn":426,"T":86},{"series":"ATR","wn":419,"T":88.7},{"series":"ATR","wn":414,"T":80},{"series":"ATR","wn":410,"T":72},{"series":"ATR","wn":405,"T":75},{"series":"ATR","wn":400,"T":78}
]},
"data":{"name":"spectra"},
"mark":{"type":"line","interpolate":"monotone","color":"black","clip":true,"strokeCap":"butt"},
"encoding":{
"x":{"field":"wn","type":"quantitative",
 "scale":{"domain":[400,4000],"reverse":true,"nice":false,"zero":false},
 "axis":{"values":[4000,3600,3200,2800,2400,2000,1600,1200,800,400],"format":"d","title":"wavenumber /cm⁻¹","grid":true,"gridColor":"#d9d9d9","gridWidth":1,"domain":false,"ticks":false,"labelFontSize":17,"labelColor":"#595959","labelPadding":17,"labelFlush":false,"labelOverlap":false,"titleFontSize":15.5,"titleFontWeight":"normal","titleColor":"#595959","titlePadding":12}},
"y":{"field":"T","type":"quantitative",
 "scale":{"domain":[0,110],"nice":false,"zero":true},
 "axis":{"values":[0,20,40,60,80,100],"title":"transmittance / %","grid":true,"gridColor":"#d9d9d9","gridWidth":1,"domain":false,"ticks":false,"labelFontSize":17,"labelColor":"#595959","labelPadding":19,"titleFontSize":19,"titleFontWeight":"normal","titleColor":"#595959","titlePadding":-1}},
"strokeDash":{"field":"series","type":"nominal",
 "scale":{"domain":["処理なし","KBr_ClearDisk","片面soft","両面soft","両面hard","ATR"],"range":[[1,0],[18,7],[1.5,2],[3,2],[6,3],[1,0]]},
 "legend":{"orient":"none","direction":"horizontal","legendX":24,"legendY":329,"columns":3,"title":null,"symbolType":"stroke","symbolSize":1600,"symbolStrokeColor":"black","labelFontSize":19.5,"labelColor":"#595959","labelOffset":6,"rowPadding":6,"columnPadding":23,"gridAlign":"all","labelLimit":300}},
"strokeWidth":{"field":"series","type":"nominal",
 "scale":{"type":"ordinal","domain":["処理なし","KBr_ClearDisk","片面soft","両面soft","両面hard","ATR"],"range":[0.8,2.6,1.6,1.2,2,4]},
 "legend":{"orient":"none","direction":"horizontal","legendX":24,"legendY":329,"columns":3,"title":null,"symbolType":"stroke","symbolSize":1600,"symbolStrokeColor":"black","labelFontSize":19.5,"labelColor":"#595959","labelOffset":6,"rowPadding":6,"columnPadding":23,"gridAlign":"all","labelLimit":300}}
}
}
